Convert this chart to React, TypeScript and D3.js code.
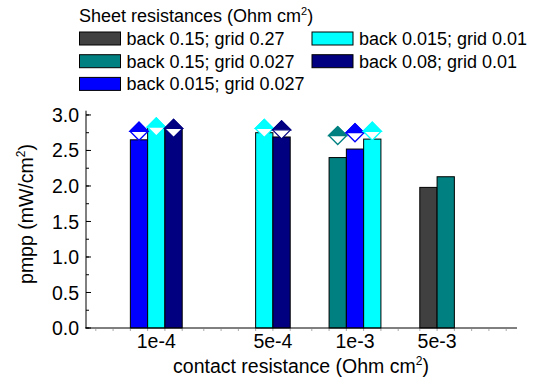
import React from 'react';
import * as d3 from 'd3';

// contact resistance categories on the x axis
const categories = ['1e-4', '5e-4', '1e-3', '5e-3'];

// sheet resistance series (legend order)
const seriesNames = [
  'back 0.15; grid 0.27',
  'back 0.15; grid 0.027',
  'back 0.015; grid 0.027',
  'back 0.015; grid 0.01',
  'back 0.08; grid 0.01',
];
const seriesColors = ['#404040', '#008080', '#0000ff', '#00ffff', '#000080'];

// pmpp bars, one row per series, one entry per category (null = not simulated)
const barValues: (number | null)[][] = [
  [null, null, null, 1.98],
  [null, null, 2.4, 2.13],
  [2.65, null, 2.52, null],
  [2.835, 2.75, 2.66, null],
  [2.81, 2.69, null, null],
];

// half filled diamond markers
const markerValues: (number | null)[][] = [
  [null, null, null, null],
  [null, null, 2.71, null],
  [2.77, null, 2.75, null],
  [2.83, 2.81, 2.77, null],
  [2.81, 2.79, null, null],
];

const yMajor = [0, 0.5, 1.0, 1.5, 2.0, 2.5, 3.0];

const font = '"Liberation Sans", Arial, sans-serif';

export default function App() {
  const width = 534;
  const height = 384;

  const x = d3.scaleBand<string>().domain(categories).range([85, 517]).paddingInner(0.2).paddingOuter(0.1);
  const xs = d3.scaleBand<number>().domain(d3.range(seriesNames.length)).range([0, x.bandwidth()]);
  const y = d3.scaleLinear().domain([0, 3.06]).range([328, 110.7]);
  const yMinor = d3.range(0, 3.01, 0.25);

  // tick labels sit under the bars that are present in each group
  const labelX = categories.map((c, ci) => {
    const present = seriesNames.map((_, si) => si).filter((si) => barValues[si][ci] != null);
    const lo = xs(present[0]) as number;
    const hi = (xs(present[present.length - 1]) as number) + xs.bandwidth();
    return (x(c) as number) + (lo + hi) / 2;
  });

  const minorX: number[] = [];
  categories.forEach((c) => {
    for (let i = 0; i <= seriesNames.length; i++) minorX.push((x(c) as number) + i * xs.bandwidth());
  });

  const r = 9;

  return (
    <svg width={width} height={height} style={{ position: 'absolute', left: 0, top: 0 }} fontFamily={font}>
      <rect width={width} height={height} fill="#fff" />

      {/* legend */}
      <text x={79} y={22} fontSize={18}>
        Sheet resistances (Ohm cm<tspan dy={-7} fontSize={11}>2</tspan>
        <tspan dy={7}>)</tspan>
      </text>
      {seriesNames.map((name, i) => {
        const col = Math.floor(i / 3);
        const row = i % 3;
        const lx = col === 0 ? 79.5 : 312;
        const ly = 32 + row * 22.7;
        return (
          <g key={name}>
            <rect x={lx} y={ly} width={41} height={13} fill={seriesColors[i]} stroke="#000" strokeWidth={1} />
            <text x={lx + 47} y={ly + 13} fontSize={18}>
              {name}
            </text>
          </g>
        );
      })}

      {/* bars */}
      {barValues.map((vals, si) =>
        vals.map((v, ci) =>
          v == null ? null : (
            <rect
              key={`b${si}-${ci}`}
              x={(x(categories[ci]) as number) + (xs(si) as number)}
              y={y(v)}
              width={xs.bandwidth()}
              height={y(0) - y(v)}
              fill={seriesColors[si]}
              stroke="#000"
              strokeWidth={1}
            />
          )
        )
      )}

      {/* markers */}
      {markerValues.map((vals, si) =>
        vals.map((v, ci) => {
          if (v == null) return null;
          const cx = (x(categories[ci]) as number) + (xs(si) as number) + xs.bandwidth() / 2;
          const cy = y(v);
          return (
            <g key={`m${si}-${ci}`}>
              <path
                d={`M${cx - r},${cy}L${cx},${cy - r}L${cx + r},${cy}L${cx},${cy + r}Z`}
                fill="#fff"
                stroke={seriesColors[si]}
                strokeWidth={1.3}
              />
              <path d={`M${cx - r},${cy}L${cx},${cy - r}L${cx + r},${cy}Z`} fill={seriesColors[si]} stroke={seriesColors[si]} strokeWidth={1.3} />
            </g>
          );
        })
      )}

      {/* y axis */}
      <line x1={86} x2={86} y1={y(3.06)} y2={y(0)} stroke="#000" />
      {yMinor.map((t) => (
        <line key={`ym${t}`} x1={86} x2={89} y1={y(t)} y2={y(t)} stroke="#000" />
      ))}
      {yMajor.map((t) => (
        <g key={`yt${t}`}>
          <line x1={86} x2={91} y1={y(t)} y2={y(t)} stroke="#000" />
          <text x={79} y={y(t)} dy="0.36em" textAnchor="end" fontSize={19.5}>
            {t.toFixed(1)}
          </text>
        </g>
      ))}

      {/* x axis */}
      <line x1={85} x2={517} y1={y(0)} y2={y(0)} stroke="#000" />
      {minorX.map((mx, i) => (
        <line key={`xm${i}`} x1={mx} x2={mx} y1={y(0) + 1} y2={y(0) + 3} stroke="#aaa" />
      ))}
      {categories.map((c, ci) => (
        <text key={c} x={labelX[ci]} y={348} textAnchor="middle" fontSize={19.5}>
          {c}
        </text>
      ))}

      <text x={301} y={373} textAnchor="middle" fontSize={19.5}>
        contact resistance (Ohm cm<tspan dy={-8} fontSize={12}>2</tspan>
        <tspan dy={8}>)</tspan>
      </text>
      <text transform="translate(33,214) rotate(-90)" textAnchor="middle" fontSize={19.5}>
        pmpp (mW/cm<tspan dy={-8} fontSize={12}>2</tspan>
        <tspan dy={8}>)</tspan>
      </text>
    </svg>
  );
}
